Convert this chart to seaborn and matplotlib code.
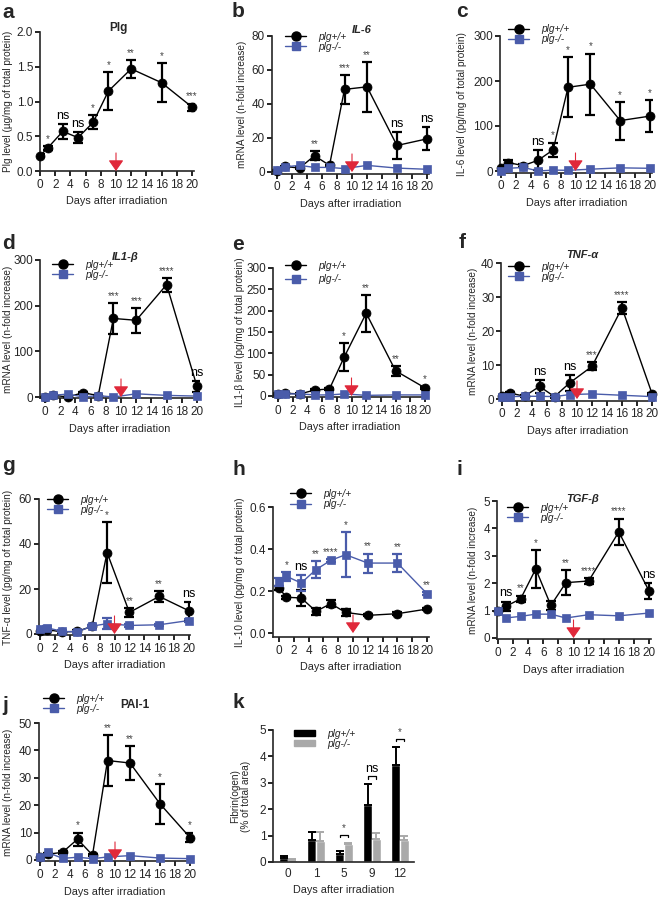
import numpy as np
import pandas as pd
import matplotlib
matplotlib.use("Agg")
import matplotlib.pyplot as plt
import seaborn as sns
from matplotlib.lines import Line2D
from matplotlib.patches import Patch
from matplotlib.ticker import FormatStrFormatter

sns.set_style("ticks")
plt.rcParams["font.family"] = ["Liberation Sans", "DejaVu Sans"]
plt.rcParams["axes.linewidth"] = 1.2

W, H = 660, 900
BLUE = "#4A5CAA"
RED = "#E0283A"
GRAY = "#A9A9A9"

# ---------------- data ----------------
days = [0, 1, 3, 5, 7, 9, 12, 16, 20]
arrow_day = 10
wt_label, ko_label = "plg+/+", "plg-/-"

# a  Plg protein
plg_wt = [0.22, 0.33, 0.57, 0.48, 0.70, 1.15, 1.47, 1.27, 0.92]
plg_wt_err = [0.02, 0.03, 0.11, 0.08, 0.10, 0.27, 0.13, 0.28, 0.05]
plg_sig = ["", "*", "ns", "ns", "*", "*", "**", "*", "***"]

# b  IL-6 mRNA
il6m_wt = [0.8, 3.3, 2.3, 9.6, 3.9, 48.6, 50.1, 15.6, 19.5]
il6m_wt_err = [0.4, 0.5, 0.5, 2.5, 0.5, 8.4, 14.7, 7.8, 6.8]
il6m_ko = [1.0, 3.0, 3.9, 2.7, 2.7, 2.0, 3.9, 2.3, 1.6]
il6m_sig = ["", "", "", "**", "", "***", "**", "ns", "ns"]

# c  IL-6 protein
il6p_wt = [6, 18.5, 12, 24, 47, 186, 193, 112, 122]
il6p_wt_err = [3, 5.5, 4, 22, 16, 67, 68, 42, 36]
il6p_ko = [0, 6, 8, 0, 2, 1.5, 4, 7, 6]
il6p_sig = ["", "", "", "ns", "*", "*", "*", "*", "*"]

# d  IL1-beta mRNA
il1m_wt = [0, 4, 0, 9.5, 3, 172, 168, 246, 23]
il1m_wt_err = [1, 1, 1, 2, 1, 34, 27, 15, 12]
il1m_ko = [0, 3.5, 6.5, 0, 3, 0, 7, 3.5, 2]
il1m_sig = ["", "", "", "", "", "***", "***", "****", "ns"]

# e  IL1-beta protein
il1p_wt = [5, 6.3, 5, 14, 16.5, 91, 194, 59, 19]
il1p_wt_err = [2, 2, 2, 3, 3, 33, 43, 12, 3]
il1p_ko = [4, 5, 5, 2.5, 2.5, 5, 1.5, 2.5, 2.5]
il1p_sig = ["", "", "", "", "", "*", "**", "**", "*"]

# f  TNF-alpha mRNA
tnfm_wt = [1.0, 1.8, 0.8, 3.7, 0.7, 4.7, 9.6, 26.8, 1.6]
tnfm_wt_err = [0.3, 0.3, 0.3, 1.8, 0.3, 2.3, 1.2, 1.7, 0.3]
tnfm_ko = [0.6, 0.7, 0.8, 0.8, 0.7, 1.3, 1.5, 1.1, 0.7]
tnfm_sig = ["", "", "", "ns", "", "ns", "***", "****", ""]

# g  TNF-alpha protein
tnfp_wt = [1.2, 1.9, 0.9, 1.2, 3.4, 36.2, 9.6, 16.7, 10.3]
tnfp_wt_err = [0.5, 0.5, 0.5, 0.5, 0.5, 13.4, 1.9, 2.5, 3.9]
tnfp_ko = [2.4, 2.7, 1.2, 0.9, 3.5, 4.6, 3.8, 4.1, 6.0]
tnfp_ko_err = [0.8, 0.8, 0.5, 0.5, 0.6, 2.5, 0.5, 0.5, 0.8]
tnfp_sig = ["", "", "", "", "", "*", "**", "**", "ns"]

# h  IL-10 protein
il10_wt = [0.214, 0.170, 0.167, 0.103, 0.140, 0.098, 0.084, 0.092, 0.114]
il10_wt_err = [0.008, 0.006, 0.040, 0.016, 0.016, 0.018, 0.005, 0.008, 0.005]
il10_ko = [0.243, 0.270, 0.238, 0.302, 0.346, 0.373, 0.333, 0.333, 0.187]
il10_ko_err = [0.020, 0.020, 0.040, 0.040, 0.006, 0.106, 0.045, 0.043, 0.006]
il10_sig = ["", "*", "ns", "**", "****", "*", "**", "**", "**"]

# i  TGF-beta mRNA
tgf_wt = [0.99, 1.15, 1.43, 2.52, 1.19, 2.02, 2.08, 3.87, 1.72]
tgf_wt_err = [0.05, 0.18, 0.12, 0.69, 0.17, 0.46, 0.10, 0.49, 0.30]
tgf_ko = [0.99, 0.73, 0.79, 0.87, 0.87, 0.73, 0.85, 0.81, 0.91]
tgf_sig = ["", "ns", "**", "*", "", "**", "****", "****", "ns"]

# j  PAI-1 mRNA
pai_wt = [1.0, 2.1, 2.8, 7.6, 1.8, 36.3, 35.4, 20.5, 8.2]
pai_wt_err = [0.5, 0.5, 0.5, 2.4, 0.5, 9.4, 6.3, 7.2, 1.8]
pai_ko = [1.0, 2.8, 0.6, 1.0, 0.5, 1.1, 1.6, 0.7, 0.5]
pai_sig = ["", "", "", "*", "", "**", "**", "*", "*"]

# k  Fibrin(ogen) bars
fib_days = ["0", "1", "5", "9", "12"]
fib_wt = [0.15, 0.82, 0.32, 2.15, 3.67]
fib_wt_err = [0.08, 0.32, 0.08, 0.79, 0.70]
fib_ko = [0.06, 0.78, 0.67, 0.86, 0.82]
fib_ko_err = [0.06, 0.35, 0.06, 0.22, 0.17]
fib_sig = ["", "", "*", "ns", "*"]

mrna_label = "mRNA level (n-fold increase)"
xlabel = "Days after irradiation"

# ---------------- figure ----------------
fig = plt.figure(figsize=(W / 100, H / 100), dpi=100)


def place(px_a, val_a, px_b, val_b, xlim, py_a, yval_a, py_b, yval_b, ylim):
    sx = (px_b - px_a) / (val_b - val_a)
    left = px_a + (xlim[0] - val_a) * sx
    right = px_a + (xlim[1] - val_a) * sx
    sy = (py_b - py_a) / (yval_b - yval_a)
    top = py_a + (ylim[1] - yval_a) * sy
    bottom = py_a + (ylim[0] - yval_a) * sy
    ax = fig.add_axes([left / W, 1 - bottom / H, (right - left) / W, (bottom - top) / H])
    ax.set_xlim(*xlim)
    ax.set_ylim(*ylim)
    ax._px_left = left
    ax._px_width = right - left
    return ax


def style(ax, yticks, ylabel, label_x, fmt=None, xlab=True):
    sns.despine(ax=ax)
    ax.set_yticks(yticks)
    if fmt:
        ax.yaxis.set_major_formatter(FormatStrFormatter(fmt))
    ax.tick_params(axis="both", direction="out", length=3.5, width=1.2,
                   labelsize=8.5, color="black")
    ax.tick_params(axis="x", pad=2)
    ax.tick_params(axis="y", pad=1.5)
    ax.set_ylabel(ylabel, fontsize=7.2, va="center", linespacing=1.1)
    ax.yaxis.set_label_coords((label_x - ax._px_left) / ax._px_width, 0.5)
    if xlab:
        ax.set_xlabel(xlabel, fontsize=7.8, labelpad=4)


def line_panel(ax, wt, wt_err, ko=None, ko_err=None, sig=None):
    sns.lineplot(x=days, y=wt, ax=ax, color="black", marker="o", markersize=6.5,
                 markeredgecolor="black", markeredgewidth=0.5, linewidth=1.0,
                 clip_on=False, zorder=3)
    ax.errorbar(days, wt, yerr=wt_err, fmt="none", ecolor="black",
                elinewidth=1.6, capsize=3.5, capthick=1.6, zorder=2.5)
    tops = np.array(wt) + np.array(wt_err)
    if ko is not None:
        sns.lineplot(x=days, y=ko, ax=ax, color=BLUE, marker="s", markersize=6,
                     markeredgecolor=BLUE, markeredgewidth=0.5, linewidth=1.0,
                     clip_on=False, zorder=4)
        if ko_err is not None:
            ax.errorbar(days, ko, yerr=ko_err, fmt="none", ecolor=BLUE,
                        elinewidth=1.6, capsize=3.5, capthick=1.6, zorder=3.5)
            tops = np.maximum(tops, np.array(ko) + np.array(ko_err))
        else:
            tops = np.maximum(tops, np.array(ko))
    ax.set_xticks(range(0, 21, 2))
    ax.annotate("", xy=(arrow_day, 0), xytext=(0, 13), textcoords="offset points",
                xycoords="data", annotation_clip=False, zorder=6,
                arrowprops=dict(arrowstyle="-|>,head_length=0.33,head_width=0.23",
                                mutation_scale=20, color=RED, lw=0.8,
                                shrinkA=0, shrinkB=0))
    if sig:
        for d, t, s in zip(days, tops, sig):
            if not s:
                continue
            ns = s == "ns"
            ax.annotate(s, xy=(d, t), xytext=(0, 1.5), textcoords="offset points",
                        ha="center", va="bottom", fontsize=9 if ns else 7,
                        color="black" if ns else "#444444", annotation_clip=False)


def legend(ax, x, y1, y2, patches=False):
    if patches:
        handles = [Patch(color="black"), Patch(color=GRAY)]
        hl, hh = 2.1, 0.6
    else:
        handles = [Line2D([], [], color="black", marker="o", markersize=6.5, lw=1),
                   Line2D([], [], color=BLUE, marker="s", markersize=6, lw=1)]
        hl, hh = 2.1, 0.7
    pitch = max(y2 - y1, 11.5)
    sp = max(0.0, (pitch - 11.5) / 10.4)
    mid = (y1 + y2) / 2
    top = mid - max(pitch, 11.5) / 2 - 6
    ax.legend(handles, [wt_label, ko_label], loc="upper left",
              bbox_to_anchor=(x / W, 1 - top / H), bbox_transform=fig.transFigure,
              frameon=False, borderpad=0, borderaxespad=0, handlelength=hl,
              handleheight=hh, handletextpad=1.15, labelspacing=sp,
              prop={"style": "italic", "size": 7.3})


def letter(x, y, s):
    fig.text(x / W, 1 - y / H, s, fontsize=15, fontweight="bold", va="baseline", ha="left")


def title(x, y, s, italic=True, size=8):
    fig.text(x / W, 1 - y / H, s, fontsize=size, fontweight="bold",
             style="italic" if italic else "normal", ha="center", va="center")


# a
ax = place(40, 0, 192, 20, (0, 20.3), 32, 2.0, 171, 0, (0, 2.0))
line_panel(ax, plg_wt, plg_wt_err, sig=plg_sig)
style(ax, [0, 0.5, 1.0, 1.5, 2.0], "Plg level (µg/mg of total protein)", 8, fmt="%.1f")
letter(2, 18, "a")
title(118, 28, "Plg", italic=False, size=8.5)

# b
ax = place(277, 0, 427, 20, (-0.67, 20.3), 36, 80, 172, 0, (-1, 80))
line_panel(ax, il6m_wt, il6m_wt_err, il6m_ko, sig=il6m_sig)
style(ax, [0, 20, 40, 60, 80], mrna_label, 242)
legend(ax, 285, 38, 49)
letter(232, 17, "b")
title(362, 30, "IL-6")

# c
ax = place(501, 0, 650, 20, (-0.1, 20.3), 36, 300, 171, 0, (-4, 300))
line_panel(ax, il6p_wt, il6p_wt_err, il6p_ko, sig=il6p_sig)
style(ax, [0, 100, 200, 300], "IL-6 level (pg/mg of total protein)", 462)
legend(ax, 508, 31, 41)
letter(456, 17, "c")

# d
ax = place(45, 0, 197, 20, (-0.66, 20.3), 260, 300, 397, 0, (-3, 300))
line_panel(ax, il1m_wt, il1m_wt_err, il1m_ko, sig=il1m_sig)
style(ax, [0, 100, 200, 300], mrna_label, 8)
legend(ax, 52, 266, 277)
letter(2, 249, "d")
title(125, 257, "IL1-β")

# e
ax = place(278, 0, 425, 20, (-0.68, 20.3), 268, 300, 396, 0, (-3, 300))
line_panel(ax, il1p_wt, il1p_wt_err, il1p_ko, sig=il1p_sig)
style(ax, [0, 50, 100, 150, 200, 250, 300], "IL1-β level (pg/mg of total protein)", 240)
legend(ax, 285, 267, 282)
letter(232, 250, "e")

# f
ax = place(502, 0, 652, 20, (-0.1, 20.2), 263, 40, 399, 0, (-0.5, 40))
line_panel(ax, tnfm_wt, tnfm_wt_err, tnfm_ko, sig=tnfm_sig)
style(ax, [0, 10, 20, 30, 40], mrna_label, 473)
legend(ax, 508, 268, 279)
letter(459, 248, "f")
title(582, 255, "TNF-α")

# g
ax = place(40, 0, 189, 20, (-0.15, 20.2), 499, 60, 634, 0, (-0.5, 60))
line_panel(ax, tnfp_wt, tnfp_wt_err, tnfp_ko, tnfp_ko_err, sig=tnfp_sig)
style(ax, [0, 20, 40, 60], "TNF-α level (pg/mg of total protein)", 8)
legend(ax, 47, 501, 512)
letter(2, 471, "g")

# h
ax = place(279, 0, 427, 20, (-0.8, 20.3), 507, 0.6, 633, 0, (-0.02, 0.6))
line_panel(ax, il10_wt, il10_wt_err, il10_ko, il10_ko_err, sig=il10_sig)
style(ax, [0, 0.2, 0.4, 0.6], "IL-10 level (pg/mg of total protein)", 240, fmt="%.1f")
legend(ax, 290, 495, 507)
letter(232, 475, "h")

# i
ax = place(498, 0, 649, 20, (-0.15, 20.2), 501, 5, 638, 0, (-0.05, 5))
line_panel(ax, tgf_wt, tgf_wt_err, tgf_ko, sig=tgf_sig)
style(ax, [0, 1, 2, 3, 4, 5], mrna_label, 473)
legend(ax, 507, 509, 520)
letter(457, 475, "i")
title(583, 499, "TGF-β")

# j
ax = place(40, 0, 190, 20, (-0.15, 20.2), 723, 50, 860, 0, (-0.5, 50))
line_panel(ax, pai_wt, pai_wt_err, pai_ko, sig=pai_sig)
style(ax, [0, 10, 20, 30, 40, 50], mrna_label, 8)
legend(ax, 43, 700, 711)
letter(2, 711, "j")
title(135, 705, "PAI-1", italic=False, size=8.5)

# k
ax = place(288, 0, 400, 4, (-0.53, 4.5), 730, 5, 862, 0, (0, 5))
df = pd.DataFrame({
    "day": fib_days * 2,
    "val": fib_wt + fib_ko,
    "geno": [wt_label] * len(fib_days) + [ko_label] * len(fib_days),
})
sns.barplot(data=df, x="day", y="val", hue="geno", order=fib_days,
            hue_order=[wt_label, ko_label], palette=["black", GRAY],
            width=0.64, gap=0.1, errorbar=None, legend=False, ax=ax,
            saturation=1)
ax.set_xlim(-0.53, 4.5)
centers = []
for cont, errs, col in zip(ax.containers, [fib_wt_err, fib_ko_err], ["black", GRAY]):
    xs = [b.get_x() + b.get_width() / 2 for b in cont]
    hs = [b.get_height() for b in cont]
    ax.errorbar(xs, hs, yerr=[np.zeros(len(errs)), errs], fmt="none", ecolor=col,
                elinewidth=1.4, capsize=3, capthick=1.4, zorder=3)
    centers.append((xs, np.array(hs) + np.array(errs)))
(xw, tw), (xk, tk) = centers
for i, s in enumerate(fib_sig):
    if not s:
        continue
    yb = max(tw[i], tk[i]) + 0.3
    leg = 0.1
    ax.plot([xw[i], xw[i], xk[i], xk[i]], [yb - leg, yb, yb, yb - leg], color="black",
            lw=0.9, clip_on=False)
    ns = s == "ns"
    ax.annotate(s, xy=((xw[i] + xk[i]) / 2, yb), xytext=(0, 1), textcoords="offset points",
                ha="center", va="bottom", fontsize=9 if ns else 7,
                color="black" if ns else "#444444", annotation_clip=False)
style(ax, [0, 1, 2, 3, 4, 5], "Fibrin(ogen)\n(% of total area)", 241)
ax.tick_params(axis="x", length=0, pad=4)
legend(ax, 294, 735, 746, patches=True)
letter(232, 708, "k")

fig.savefig("out.png", dpi=100)
